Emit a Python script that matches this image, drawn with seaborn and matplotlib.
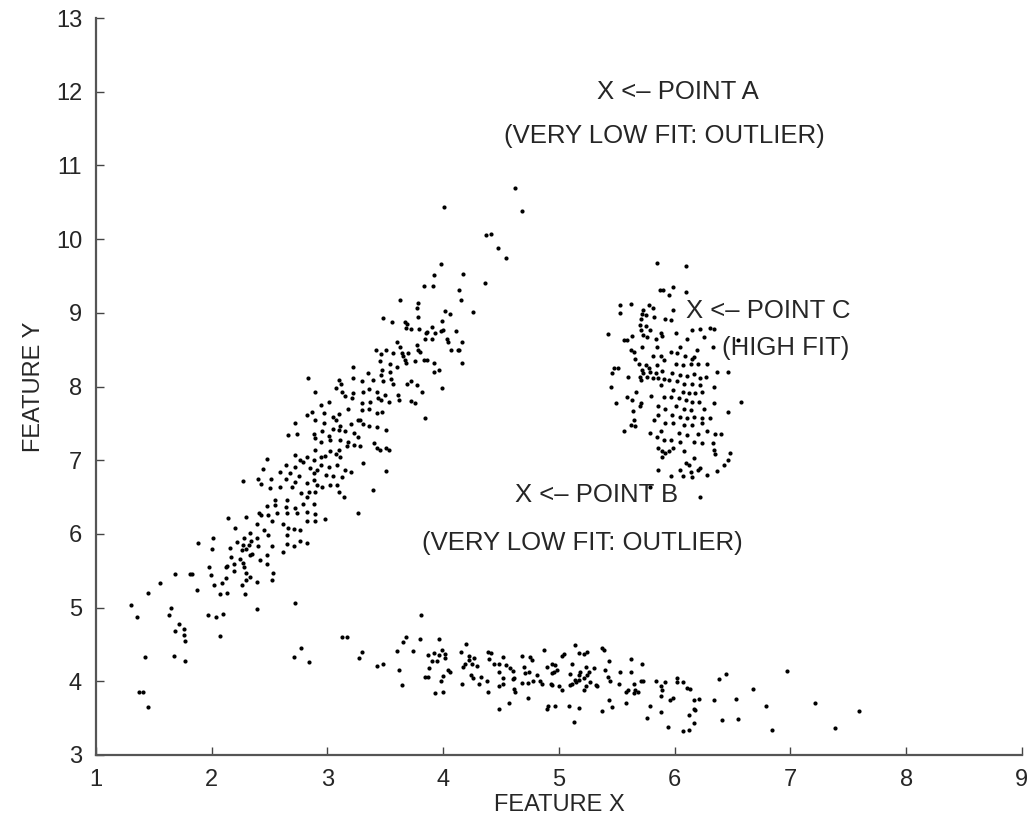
import matplotlib
matplotlib.use("Agg")
import matplotlib.pyplot as plt
import pandas as pd
import seaborn as sns

# stragglers at the far left
left_x = [1.30, 1.35, 1.45, 1.55, 1.42, 1.37, 1.41, 1.45, 1.68, 1.65, 1.63, 1.68, 1.72, 1.76, 1.76,
          1.77, 1.67, 1.77, 1.81, 2.07]
left_y = [5.04, 4.87, 5.20, 5.33, 4.33, 3.85, 3.85, 3.65, 5.46, 4.99, 4.90, 4.68, 4.78, 4.71, 4.63,
          4.55, 4.35, 4.28, 5.46, 4.62]

# rising diagonal cluster, lower part
diag_low_x = [2.48, 2.44, 2.27, 2.40, 2.51, 2.43, 2.50, 2.55, 2.48, 2.55, 2.41, 2.43, 2.49, 2.56, 2.14,
              2.30, 2.52, 2.62, 2.82, 2.89, 2.39, 2.45, 2.66, 2.71, 2.76, 2.20, 2.28, 2.33, 2.39, 2.49,
              2.65, 2.76, 2.82, 2.01, 1.88, 2.22, 2.27, 2.32, 2.34, 2.40, 2.52, 2.65, 2.71, 2.00, 2.16,
              2.26, 2.30, 2.35, 2.62, 2.17, 2.24, 2.27, 2.33, 2.48, 2.13, 2.19, 2.42, 2.48, 1.98, 2.12,
              2.28, 1.83, 1.99, 2.19, 2.30, 2.33, 2.53, 2.12, 2.30, 2.39, 2.52, 2.02, 2.09, 2.26, 1.87,
              2.07, 2.13, 2.29, 2.72, 2.39, 1.97, 2.04, 2.10]
diag_low_y = [7.02, 6.88, 6.72, 6.75, 6.75, 6.68, 6.62, 6.46, 6.38, 6.39, 6.29, 6.26, 6.26, 6.28, 6.22,
              6.23, 6.17, 6.14, 6.18, 6.18, 6.14, 6.05, 6.08, 6.06, 6.05, 6.08, 5.95, 6.01, 5.94, 5.98,
              5.98, 5.91, 5.88, 5.94, 5.87, 5.89, 5.85, 5.85, 5.91, 5.83, 5.84, 5.86, 5.83, 5.80, 5.81,
              5.78, 5.79, 5.73, 5.76, 5.68, 5.66, 5.60, 5.71, 5.71, 5.56, 5.59, 5.65, 5.59, 5.55, 5.55,
              5.55, 5.46, 5.44, 5.50, 5.47, 5.42, 5.47, 5.40, 5.38, 5.35, 5.38, 5.30, 5.33, 5.31, 5.24,
              5.18, 5.20, 5.19, 5.06, 4.98, 4.90, 4.87, 4.91]

# rising diagonal cluster, middle part
diag_mid_x = [3.22, 3.35, 3.46, 3.54, 2.83, 3.10, 3.12, 3.22, 3.30, 3.39, 3.48, 3.55, 3.57, 3.69, 3.72,
              3.77, 3.07, 2.89, 3.13, 3.22, 3.31, 3.36, 3.43, 3.50, 3.61, 3.82, 2.94, 3.01, 3.15, 3.21,
              3.30, 3.37, 3.44, 3.46, 3.53, 3.62, 3.72, 3.76, 2.97, 3.05, 3.10, 3.18, 3.30, 3.36, 3.43,
              3.47, 2.87, 2.82, 2.72, 2.89, 2.97, 3.07, 3.11, 3.20, 3.26, 3.28, 3.31, 3.36, 3.43, 3.51,
              3.84, 2.66, 2.74, 2.88, 2.95, 3.01, 3.05, 3.10, 3.15, 3.23, 3.26, 2.89, 2.94, 3.02, 3.11,
              3.18, 3.23, 3.17, 3.28, 3.40, 3.43, 3.45, 3.51, 3.53, 2.89, 3.02, 3.10, 2.72, 2.76, 2.82,
              2.88, 2.94, 2.98, 3.07, 3.11, 2.64, 2.72, 2.79, 2.85, 2.91, 2.94, 3.01, 3.08, 3.15, 3.31,
              2.59, 2.68, 2.75, 2.88, 2.99, 3.05, 3.13, 3.20, 3.51, 2.64, 2.72, 2.82, 2.88, 2.91, 2.95,
              3.02, 3.08, 2.59, 2.69, 2.77, 2.84, 2.89, 3.10, 2.65, 2.82, 2.64, 2.72, 2.79, 2.88, 3.14,
              3.39, 2.65, 2.74, 2.82, 2.89, 3.26, 2.98, 3.99, 3.92]
diag_mid_y = [8.26, 8.18, 8.16, 8.20, 8.12, 8.09, 8.04, 8.11, 8.08, 8.09, 8.07, 8.10, 8.04, 8.04, 8.07,
              8.02, 7.98, 7.92, 7.92, 7.91, 7.93, 7.97, 7.93, 7.88, 7.88, 7.93, 7.75, 7.79, 7.87, 7.84,
              7.77, 7.79, 7.85, 7.82, 7.79, 7.82, 7.80, 7.77, 7.64, 7.59, 7.63, 7.69, 7.68, 7.69, 7.64,
              7.66, 7.66, 7.61, 7.51, 7.54, 7.50, 7.55, 7.46, 7.49, 7.55, 7.55, 7.49, 7.46, 7.45, 7.41,
              7.57, 7.34, 7.36, 7.36, 7.39, 7.33, 7.42, 7.41, 7.39, 7.37, 7.32, 7.30, 7.25, 7.27, 7.27,
              7.25, 7.21, 7.19, 7.19, 7.23, 7.16, 7.14, 7.16, 7.14, 7.14, 7.12, 7.14, 7.07, 7.00, 7.05,
              7.00, 7.05, 7.06, 7.09, 7.05, 6.93, 6.91, 6.98, 6.89, 6.87, 6.93, 6.91, 6.93, 6.87, 6.96,
              6.84, 6.82, 6.78, 6.82, 6.80, 6.78, 6.77, 6.84, 6.86, 6.74, 6.71, 6.69, 6.73, 6.66, 6.64,
              6.66, 6.66, 6.64, 6.64, 6.55, 6.57, 6.57, 6.57, 6.46, 6.50, 6.37, 6.35, 6.41, 6.41, 6.50,
              6.60, 6.28, 6.28, 6.30, 6.27, 6.29, 6.20, 7.98, 8.20]

# rising diagonal cluster, upper part and the far tip
diag_top_x = [4.62, 4.68, 4.01, 4.37, 4.41, 4.47, 4.54, 3.98, 3.92, 4.17, 3.83, 3.91, 4.36, 4.14, 4.15,
              3.63, 3.78, 3.77, 3.48, 3.56, 3.78, 4.02, 4.06, 4.26, 3.67, 3.69, 3.99, 3.68, 3.72, 3.79,
              3.90, 3.86, 3.85, 3.93, 3.98, 4.00, 4.11, 3.84, 3.90, 4.03, 4.04, 3.60, 3.63, 3.77, 3.42,
              3.46, 3.51, 3.57, 3.64, 3.65, 3.70, 3.78, 3.80, 4.07, 4.13, 4.14, 4.16, 3.45, 3.54, 3.60,
              3.67, 3.68, 3.76, 3.83, 3.86, 3.92, 4.16, 3.47, 3.96]
diag_top_y = [10.70, 10.38, 10.43, 10.05, 10.07, 9.88, 9.74, 9.66, 9.51, 9.53, 9.37, 9.36, 9.41, 9.31, 9.18,
              9.18, 9.13, 9.06, 8.93, 8.88, 8.95, 9.03, 8.98, 9.01, 8.88, 8.85, 8.89, 8.79, 8.78, 8.78,
              8.81, 8.74, 8.72, 8.72, 8.76, 8.77, 8.75, 8.65, 8.64, 8.65, 8.61, 8.60, 8.54, 8.56, 8.50,
              8.44, 8.50, 8.46, 8.45, 8.42, 8.46, 8.50, 8.47, 8.49, 8.50, 8.50, 8.60, 8.34, 8.31, 8.27,
              8.36, 8.32, 8.35, 8.36, 8.36, 8.32, 8.32, 8.23, 8.23]

# flat band along the bottom
band_x = [2.77, 2.71, 2.84, 3.13, 3.17, 3.30, 3.27, 3.43, 3.48, 3.62, 3.64, 3.60, 3.65, 3.68, 3.74,
          3.80, 3.81, 3.87, 3.92, 3.90, 3.95, 3.96, 3.99, 4.02, 4.02, 3.96, 3.88, 3.84, 3.87, 3.98,
          4.00, 4.04, 4.06, 3.93, 4.00, 4.15, 4.20, 4.22, 4.22, 4.17, 4.19, 4.25, 4.27, 4.29, 4.16,
          4.24, 4.26, 4.33, 4.31, 4.38, 4.39, 4.40, 4.39,
          4.41, 4.44, 4.48, 4.52, 4.54, 4.48, 4.58, 4.60, 4.52, 4.60, 4.61, 4.52, 4.48, 4.61, 4.62,
          4.57, 4.48, 4.68, 4.75, 4.77, 4.70, 4.74, 4.71, 4.68, 4.73, 4.78, 4.81, 4.84, 4.85, 4.73,
          4.87, 4.90, 4.94, 4.96, 4.94, 4.97, 4.98, 4.93, 4.94, 5.00, 5.03, 5.03, 5.04, 5.11, 5.10,
          5.14, 5.17, 5.22, 5.24, 5.18, 5.17, 5.23, 5.26, 5.24, 5.14, 5.17, 5.11, 5.10, 5.15, 5.22,
          5.30, 5.27, 5.23, 5.22, 5.32, 5.33, 5.37, 5.39, 5.43, 5.40, 5.42, 5.44, 5.52, 5.53, 5.62,
          5.62, 5.65, 5.72, 5.71, 5.73, 5.58, 5.60, 5.66, 5.68, 5.65, 4.91, 4.90, 4.97, 5.09, 5.17,
          5.13, 5.37, 5.43, 5.46, 5.58, 5.84, 5.88, 5.89, 5.92, 6.02, 6.02, 6.07, 6.11, 6.13, 5.88,
          5.96, 5.99, 6.17, 6.21, 5.79, 6.17, 6.18, 5.88, 5.76, 6.12, 5.94, 6.17, 6.07, 6.12,
          6.34, 6.38, 6.44, 6.41, 6.53, 6.55, 6.68, 6.79, 6.84, 6.97, 7.21, 7.39, 7.59]
band_y = [4.45, 4.33, 4.26, 4.60, 4.60, 4.40, 4.31, 4.21, 4.23, 4.15, 3.95, 4.41, 4.53, 4.60, 4.41,
          4.57, 4.90, 4.36, 4.39, 4.28, 4.27, 4.57, 4.42, 4.37, 4.31, 4.36, 4.18, 4.06, 4.06, 4.01,
          4.07, 4.15, 4.12, 3.84, 3.85, 4.40, 4.51, 4.34, 4.29, 4.19, 4.23, 4.23, 4.32, 4.21, 3.96,
          4.09, 4.05, 4.06, 3.97, 4.00, 4.40, 4.30, 3.86,
          4.38, 4.24, 4.24, 4.33, 4.22, 4.12, 4.18, 4.14, 4.04, 4.03, 4.04, 3.96, 3.93, 3.90, 3.86,
          3.70, 3.63, 4.34, 4.33, 4.29, 4.20, 4.13, 4.11, 3.98, 3.98, 4.00, 4.09, 4.00, 3.97, 3.77,
          4.43, 4.20, 4.24, 4.13, 4.11, 4.22, 4.15, 3.97, 3.95, 3.93, 3.88, 4.34, 4.37, 4.24, 4.10,
          4.49, 4.39, 4.37, 4.40, 4.12, 4.09, 4.20, 4.13, 4.09, 4.02, 4.02, 3.97, 3.95, 3.99, 4.04,
          4.18, 3.99, 3.93, 3.88, 3.95, 3.93, 4.45, 4.43, 4.27, 4.15, 4.06, 4.01, 3.96, 4.13, 4.30,
          4.13, 3.97, 4.23, 4.00, 4.00, 3.86, 3.88, 3.88, 3.86, 3.84, 3.66, 3.63, 3.66, 3.67, 3.64,
          3.45, 3.60, 3.74, 3.65, 3.71, 4.01, 3.94, 3.88, 3.99, 4.04, 3.99, 3.99, 3.91, 3.90, 3.80,
          3.75, 3.77, 3.75, 3.76, 3.66, 3.63, 3.61, 3.59, 3.50, 3.54, 3.38, 3.44, 3.32, 3.34,
          3.75, 4.03, 4.10, 3.48, 3.76, 3.49, 3.90, 3.67, 3.34, 4.14, 3.70, 3.36, 3.60]

# compact cluster on the right
right_x = [5.85, 5.87, 5.90, 5.53, 5.62, 5.53, 5.78, 5.81, 5.73, 5.72, 5.75, 5.82, 5.71, 5.92, 5.70,
           5.75, 5.71, 5.79, 5.42, 5.88, 5.56, 5.59, 5.63, 5.73, 5.76, 5.84, 5.89, 5.62, 5.65, 5.72,
           5.85, 5.66, 5.81, 5.88, 5.91, 5.69, 5.85, 5.75, 5.78, 5.48, 5.51, 5.72, 5.73, 5.79, 5.84,
           5.89, 5.46, 5.60, 5.70, 5.76, 5.81, 5.86, 5.91, 5.71, 5.45, 5.88, 5.67, 5.80, 5.91, 5.59,
           5.63, 5.71, 5.70, 5.49, 5.64, 5.86, 5.92, 5.82, 5.65, 5.86, 5.92, 5.62, 5.66, 5.56, 5.79,
           5.88, 5.85, 5.91, 5.86, 5.89, 5.92, 5.89, 5.86, 5.79,
           6.10, 5.99, 5.95, 6.10, 5.99, 5.97, 6.15, 6.22, 6.31, 6.34, 6.01, 6.11, 6.25, 6.05, 6.19,
           6.33, 5.97, 6.02, 6.09, 6.15, 6.17, 6.01, 6.07, 6.14, 6.20, 6.28, 6.37, 6.46, 5.98, 6.05,
           6.11, 6.17, 6.22, 6.27, 5.95, 6.02, 6.08, 6.15, 6.22, 6.34, 5.99, 6.07, 6.12, 6.18, 6.24,
           5.97, 6.04, 6.10, 6.15, 6.21, 6.34, 6.57, 6.01, 6.08, 6.14, 6.25, 6.46, 5.98, 6.05, 6.11,
           6.17, 6.24, 6.31, 5.99, 6.08, 6.15, 6.24, 6.04, 6.11, 6.20, 6.28, 6.35, 6.40, 5.97, 6.05,
           6.17, 6.24, 6.33, 5.99, 5.95, 6.08, 6.34, 6.35, 6.48, 6.17, 6.10, 6.12, 6.22, 6.46, 6.43,
           6.05, 6.14, 6.20, 6.28, 6.37, 5.97, 6.07, 6.15, 6.22, 6.55]
right_y = [9.68, 9.31, 9.31, 9.11, 9.12, 9.00, 9.11, 9.07, 9.04, 8.99, 8.97, 8.95, 8.92, 8.92, 8.83,
           8.82, 8.77, 8.77, 8.71, 8.73, 8.63, 8.63, 8.68, 8.70, 8.67, 8.64, 8.68, 8.50, 8.47, 8.53,
           8.54, 8.38, 8.41, 8.41, 8.36, 8.31, 8.29, 8.29, 8.25, 8.25, 8.25, 8.22, 8.18, 8.20, 8.18,
           8.21, 8.19, 8.13, 8.13, 8.13, 8.11, 8.12, 8.10, 8.09, 7.99, 8.02, 7.93, 7.87, 7.86, 7.86,
           7.82, 7.77, 7.73, 7.78, 7.67, 7.73, 7.70, 7.55, 7.55, 7.61, 7.50, 7.48, 7.46, 7.39, 7.37,
           7.39, 7.32, 7.27, 7.17, 7.12, 7.10, 7.04, 6.87, 6.64,
           9.64, 9.35, 9.24, 9.28, 9.04, 8.90, 8.77, 8.78, 8.80, 8.78, 8.73, 8.64, 8.67, 8.54, 8.50,
           8.54, 8.47, 8.45, 8.41, 8.38, 8.40, 8.31, 8.29, 8.31, 8.31, 8.30, 8.20, 8.20, 8.18, 8.16,
           8.14, 8.17, 8.11, 8.13, 8.09, 8.07, 8.04, 8.03, 8.02, 8.00, 7.95, 7.93, 7.91, 7.91, 7.93,
           7.86, 7.84, 7.82, 7.79, 7.79, 7.77, 7.79, 7.73, 7.70, 7.68, 7.69, 7.66, 7.61, 7.59, 7.57,
           7.59, 7.57, 7.57, 7.50, 7.48, 7.48, 7.50, 7.37, 7.34, 7.36, 7.39, 7.36, 7.36, 7.27, 7.25,
           7.25, 7.24, 7.23, 7.16, 7.12, 7.12, 7.14, 7.09, 7.10, 7.03, 6.96, 6.93, 6.89, 7.00, 6.93,
           6.87, 6.84, 6.87, 6.80, 6.86, 6.78, 6.79, 6.77, 6.50, 8.63]

df = pd.DataFrame({
    "x": left_x + diag_low_x + diag_mid_x + diag_top_x + band_x + right_x,
    "y": left_y + diag_low_y + diag_mid_y + diag_top_y + band_y + right_y,
})

sns.set_style("ticks")
plt.rcParams["font.family"] = ["Liberation Sans", "DejaVu Sans"]
fig = plt.figure(figsize=(10.29, 8.21), dpi=100)
ax = fig.add_axes([0.0933, 0.0804, 0.8997, 0.8976])

sns.scatterplot(data=df, x="x", y="y", color="black", s=9, linewidth=0, ax=ax, legend=False)

ax.set_xlim(1, 9)
ax.set_ylim(3, 13)
ax.set_xticks(range(1, 10))
ax.set_yticks(range(3, 14))
ax.tick_params(direction="in", labelsize=17, length=6, width=1, color="#444444", pad=10)
for side in ["left", "bottom"]:
    ax.spines[side].set_color("#555555")
    ax.spines[side].set_linewidth(1.6)
ax.spines["top"].set_visible(False)
ax.spines["right"].set_visible(False)
ax.set_xlabel("FEATURE X", fontsize=17, labelpad=2)
ax.set_ylabel("FEATURE Y", fontsize=17, labelpad=8)

# annotations
ax.text(6.03, 12.0, "X <\u2013 POINT A", fontsize=18.5, ha="center", va="center")
ax.text(5.91, 11.4, "(VERY LOW FIT: OUTLIER)", fontsize=18.5, ha="center", va="center")
ax.text(6.10, 9.02, "X <\u2013 POINT C", fontsize=18.5, ha="left", va="center")
ax.text(6.96, 8.52, "(HIGH FIT)", fontsize=18.5, ha="center", va="center")
ax.text(4.62, 6.53, "X <\u2013 POINT B", fontsize=18.5, ha="left", va="center")
ax.text(5.20, 5.88, "(VERY LOW FIT: OUTLIER)", fontsize=18.5, ha="center", va="center")

fig.savefig("out.png", dpi=100)
